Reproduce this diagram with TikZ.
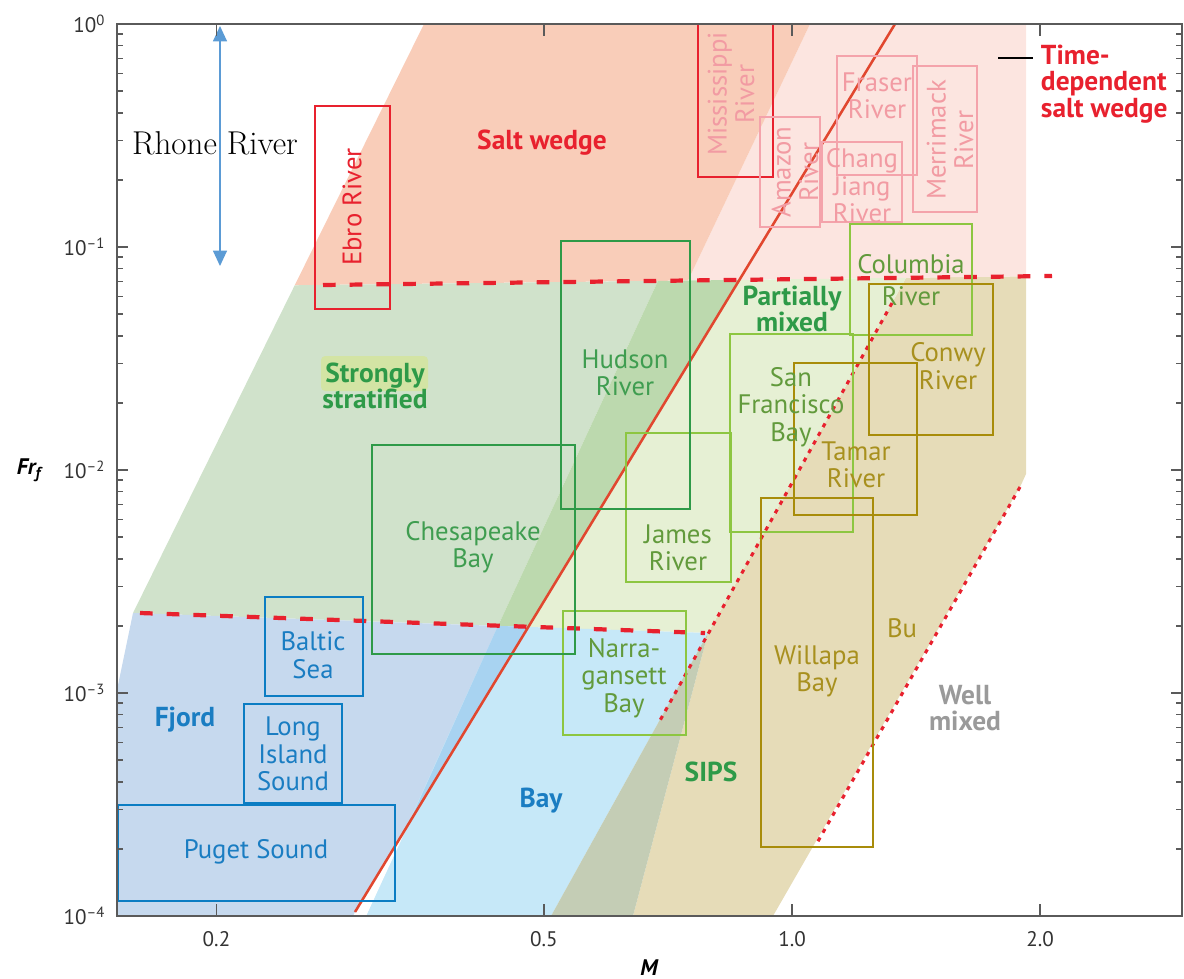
\documentclass[tikz,border=0pt]{standalone}
\usepackage{fontspec}
\newfontfamily\ptsans{PT Sans}
\usetikzlibrary{arrows.meta}

\definecolor{saltwedge}{HTML}{F9CDB9}
\definecolor{timewedge}{HTML}{FCE5E0}
\definecolor{stratgreen}{HTML}{D0E2CB}
\definecolor{overgreen}{HTML}{BCD9AE}
\definecolor{partgreen}{HTML}{E6F0D4}
\definecolor{fjordblue}{HTML}{C6D9EE}
\definecolor{baycyan}{HTML}{C6E8F8}
\definecolor{overblue}{HTML}{A8D3F1}
\definecolor{sipstan}{HTML}{E6DCB8}
\definecolor{overgrey}{HTML}{C4CDB5}
\definecolor{hilite}{HTML}{D3E4A4}
\definecolor{wedgered}{HTML}{E8212E}
\definecolor{lightred}{HTML}{F4A3AB}
\definecolor{pinktext}{HTML}{F29BA3}
\definecolor{boundred}{HTML}{E1472F}
\definecolor{limegreen}{HTML}{8DC641}
\definecolor{olivetext}{HTML}{629A3C}
\definecolor{darkgreen}{HTML}{2E9A48}
\definecolor{greentext}{HTML}{3F9D50}
\definecolor{boxgold}{HTML}{A88C0A}
\definecolor{goldtext}{HTML}{A8901E}
\definecolor{fjordline}{HTML}{0B7DC3}
\definecolor{fjordtext}{HTML}{1A7DC2}
\definecolor{rhoneblue}{HTML}{5B9BD5}
\definecolor{axisgrey}{HTML}{5A5A5A}
\definecolor{wellgrey}{HTML}{9A9A9A}

\begin{document}
\begin{tikzpicture}[x=0.025cm,y=-0.025cm,
    boxlabel/.style={font=\ptsans\fontsize{19}{19.5}\selectfont, align=center},
    regionlabel/.style={font=\ptsans\bfseries\fontsize{19.5}{19}\selectfont, align=center},
    ticklabel/.style={font=\ptsans\fontsize{15}{16}\selectfont, text=black!80},
    axislabel/.style={font=\ptsans\bfseries\itshape\fontsize{16}{18}\selectfont},
    estuary/.style={line width=2.1pt},
    regimeline/.style={draw=wedgered, line width=3pt, dash pattern=on 9pt off 10pt},
    mixdots/.style={draw=wedgered, line width=2.2pt, dash pattern=on 3pt off 4pt},
    axistick/.style={draw=axisgrey, line width=1.2pt}]

    \useasboundingbox (0,0) rectangle (1184,979);

    %% Regime shading
    % SIPS / well mixed band
    \fill[sipstan] (906,277.8) -- (1026,276.3) -- (1026,474) -- (1021,485) -- (773,916) -- (633,916) -- (708,633) -- cycle;
    % Time-dependent salt wedge
    \fill[timewedge] (810,24) -- (1026,24) -- (1026,276.3) -- (688,280.5) -- cycle;
    % Salt wedge
    \fill[saltwedge] (424,24) -- (810,24) -- (688,280.5) -- (294.7,285.3) -- cycle;
    % Strongly stratified
    \fill[stratgreen] (294.7,285.3) -- (658,280.9) -- (498,625.9) -- (133,613) -- cycle;
    \fill[overgreen] (658,280.9) -- (739.5,279.9) -- (528.6,627) -- (498,625.9) -- cycle;
    % Partially mixed
    \fill[partgreen] (739.5,279.9) -- (906,277.8) -- (708,633) -- (528.6,627) -- cycle;
    % Fjord and bay
    \fill[fjordblue] (133,613) -- (528.6,627) -- (353,916) -- (117,916) -- (117,690) -- cycle;
    \fill[baycyan] (498,625.9) -- (708,633) -- (551,916) -- (366,916) -- cycle;
    \fill[overblue] (498,625.9) -- (528.6,627) -- (407.7,826) -- cycle;
    \fill[white] (407.7,826) -- (366,916) -- (353,916) -- cycle;
    \fill[overgrey] (708,633) -- (633,916) -- (551,916) -- cycle;

    %% Regime boundaries
    \draw[regimeline] (323,285) -- (1052,276);
    \draw[regimeline] (140,613) -- (705,633);
    \draw[mixdots] (892,303) -- (658,724);
    \draw[mixdots] (1020,487) -- (817,843);
    \draw[draw=boundred, line width=1.8pt] (355,912) -- (895,24);

    %% Estuaries
    % Salt wedge estuaries
    \draw[estuary, draw=wedgered] (315,106) rectangle (390,309);
    \draw[estuary, draw=wedgered] (698,24) rectangle (773,177);
    \draw[estuary, draw=lightred] (760,117) rectangle (820,227);
    \draw[estuary, draw=lightred] (837,56) rectangle (917,175);
    \draw[estuary, draw=lightred] (822,142) rectangle (902,222);
    \draw[estuary, draw=lightred] (913,66) rectangle (977,212);
    % Partially mixed estuaries
    \draw[estuary, draw=limegreen] (850,224) rectangle (972,335);
    \draw[estuary, draw=limegreen] (730,334) rectangle (853,532);
    \draw[estuary, draw=limegreen] (626,433) rectangle (731,582);
    \draw[estuary, draw=limegreen] (563,611) rectangle (686,735);
    \draw[estuary, draw=darkgreen] (561,241) rectangle (690,509);
    \draw[estuary, draw=darkgreen] (372,445) rectangle (575,654);
    % Well mixed estuaries
    \draw[estuary, draw=boxgold] (869,284) rectangle (993,435);
    \draw[estuary, draw=boxgold] (794,363) rectangle (917,515);
    \draw[estuary, draw=boxgold] (761,498) rectangle (873,847);
    % Fjords
    \draw[estuary, draw=fjordline] (265,597) rectangle (363,696);
    \draw[estuary, draw=fjordline] (244,704) rectangle (342,803);
    \draw[estuary, draw=fjordline] (118,805) rectangle (395,901);

    % Estuary names
    \node[boxlabel, text=wedgered, rotate=90] (ebro) at (352,207) {Ebro River};
    \node[boxlabel, text=pinktext, rotate=90] (mississippi) at (731,94) {Mississippi\\River};
    \node[boxlabel, text=pinktext, rotate=90] (amazon) at (795,172) {Amazon\\River};
    \node[boxlabel, text=pinktext] (fraser) at (877,96) {Fraser\\River};
    \node[boxlabel, text=pinktext] (chang) at (862,186) {Chang\\Jiang\\River};
    \node[boxlabel, text=pinktext, rotate=90] (merrimack) at (950,140) {Merrimack\\River};
    \node[boxlabel, text=olivetext] (columbia) at (911,280) {Columbia\\[3pt]River};
    \node[boxlabel, text=olivetext] (sanfran) at (791,407) {San\\Francisco\\Bay};
    \node[boxlabel, text=olivetext] (james) at (678,548) {James\\River};
    \node[boxlabel, text=olivetext] (narragansett) at (624,678) {Narra-\\gansett\\Bay};
    \node[boxlabel, text=greentext] (hudson) at (625,373) {Hudson\\River};
    \node[boxlabel, text=greentext] (chesapeake) at (473,547) {Chesapeake\\Bay};
    \node[boxlabel, text=goldtext] (conwy) at (948,366) {Conwy\\River};
    \node[boxlabel, text=goldtext] (tamar) at (856,465) {Tamar\\River};
    \node[boxlabel, text=goldtext] (willapa) at (817,671) {Willapa\\Bay};
    \node[boxlabel, text=fjordtext] (baltic) at (313,655) {Baltic\\Sea};
    \node[boxlabel, text=fjordtext] (longisland) at (293,754) {Long\\Island\\Sound};
    \node[boxlabel, text=fjordtext] (puget) at (256,852) {Puget Sound};

    %% Regime names
    \fill[hilite, rounded corners=3pt] (321,356) rectangle (428,391);
    \node[regionlabel, text=wedgered] (saltlabel) at (542,143) {Salt wedge};
    \node[regionlabel, text=wedgered, align=left, anchor=west] (timelabel) at (1036,84) {Time-\\dependent\\salt wedge};
    \coordinate (timemark) at (998,58);
    \draw[black, line width=1.4pt] (timemark) -- ++(35,0);
    \node[regionlabel, text=darkgreen] (stratlabel) at (375,386) {Strongly\\stratified};
    \node[regionlabel, text=darkgreen] (partlabel) at (792,309) {Partially\\mixed};
    \node[regionlabel, text=fjordtext] (fjordlabel) at (185,720) {Fjord};
    \node[regionlabel, text=fjordtext] (baylabel) at (541,801) {Bay};
    \node[regionlabel, text=darkgreen] (sipslabel) at (711,772) {SIPS};
    \node[regionlabel, text=wellgrey] (welllabel) at (965,708) {Well\\mixed};
    \node[boxlabel, text=goldtext] (bulabel) at (902,628) {Bu};

    % Rhone River range
    \coordinate (rhonetop) at (220,26);
    \coordinate (rhonebot) at (220,266);
    \draw[rhoneblue, line width=1pt, {Triangle[width=10pt,length=11pt]}-{Triangle[width=10pt,length=11pt]}] (rhonetop) -- (rhonebot);
    \node[font=\fontsize{23.5}{26}\selectfont] (rhone) at (215,143) {Rhone River};

    %% Axes
    \draw[axisgrey, line width=1.4pt] (117,24) rectangle (1182,916);
    \foreach \d/\ex in {0/0,1/–1,2/–2,3/–3,4/–4} {
        \draw[axistick] (117,24+223*\d) -- ++(11,0);
        \draw[axistick] (1182,24+223*\d) -- ++(-11,0);
        \node[ticklabel, anchor=east] (ylab\d) at (110,24+223*\d) {10\textsuperscript{\ex}};
    }
    \foreach \d in {0,...,3} {
        \foreach \k in {2,...,9} {
            \pgfmathsetmacro\ty{24+223*(\d+1-log10(\k))}
            \draw[axistick] (117,\ty) -- ++(6,0);
            \draw[axistick] (1182,\ty) -- ++(-6,0);
        }
    }
    \foreach \m/\mlab [count=\i] in {0.2/0.2,0.5/0.5,1/1.0,2/2.0} {
        \pgfmathsetmacro\tx{792+824*log10(\m)}
        \draw[axistick] (\tx,916) -- ++(0,-12);
        \draw[axistick] (\tx,24) -- ++(0,12);
        \node[ticklabel] (xlab\i) at (\tx,939) {\mlab};
    }
    \node[axislabel] (frlabel) at (29,470) {Fr\textsubscript{f}};
    \node[axislabel, inner sep=0pt, anchor=base] (mlabel) at (649,975) {M};

\end{tikzpicture}
\end{document}
